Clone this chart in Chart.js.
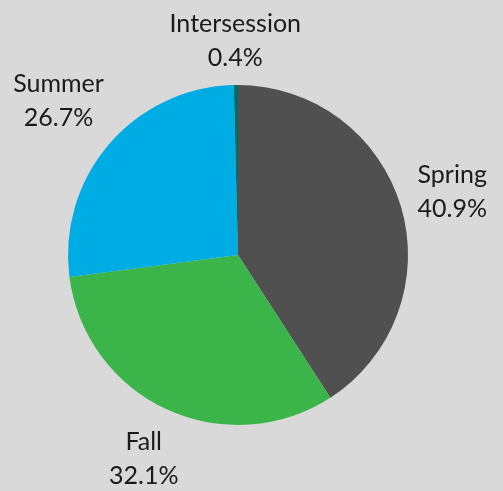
<!DOCTYPE html>
<html lang="en">
<head>
  <meta charset="utf-8">
  <script src="https://cdn.jsdelivr.net/npm/chart.js"></script>
  <style>
    html, body { margin: 0; padding: 0; background: #d9d9d9; }
    #wrap { width: 503px; height: 491px; }
  </style>
</head>
<body>
  <div id="wrap"><canvas id="pieChart" width="503" height="491"></canvas></div>

  <script>
    const categories = ['Spring', 'Fall', 'Summer', 'Intersession'];
    const shares = [40.9, 32.1, 26.7, 0.4];
    const sliceColors = ['#505050', '#3bb54a', '#00ace4', '#006d6a'];

    // outside labels: name on top, percent below
    const outsideLabels = {
      id: 'outsideLabels',
      afterDatasetsDraw(chart) {
        const ctx = chart.ctx;
        const meta = chart.getDatasetMeta(0);
        ctx.save();
        ctx.font = '25px Lato';
        ctx.fillStyle = '#1a1a1a';
        ctx.textAlign = 'center';
        ctx.textBaseline = 'middle';
        const lineH = 34;
        meta.data.forEach((arc, i) => {
          const mid = (arc.startAngle + arc.endAngle) / 2;
          const dx = Math.cos(mid), dy = Math.sin(mid);
          const l1 = categories[i];
          const l2 = shares[i].toFixed(1) + '%';
          const w = Math.max(ctx.measureText(l1).width, ctx.measureText(l2).width);
          const h = 64;
          const d = arc.outerRadius + 11 + Math.abs(dx) * w / 2 + Math.abs(dy) * h / 2;
          const cx = arc.x + dx * d;
          const cy = arc.y + dy * d;
          ctx.fillText(l1, cx, cy - lineH / 2);
          ctx.fillText(l2, cx, cy + lineH / 2);
        });
        ctx.restore();
      }
    };

    new Chart(document.getElementById('pieChart').getContext('2d'), {
      type: 'pie',
      data: {
        labels: categories,
        datasets: [{
          data: shares,
          backgroundColor: sliceColors,
          borderWidth: 0
        }]
      },
      options: {
        responsive: false,
        animation: false,
        layout: { padding: { top: 85, bottom: 66, left: 68, right: 95 } },
        plugins: {
          legend: { display: false },
          tooltip: { enabled: false }
        }
      },
      plugins: [outsideLabels]
    });
  </script>
</body>
</html>
